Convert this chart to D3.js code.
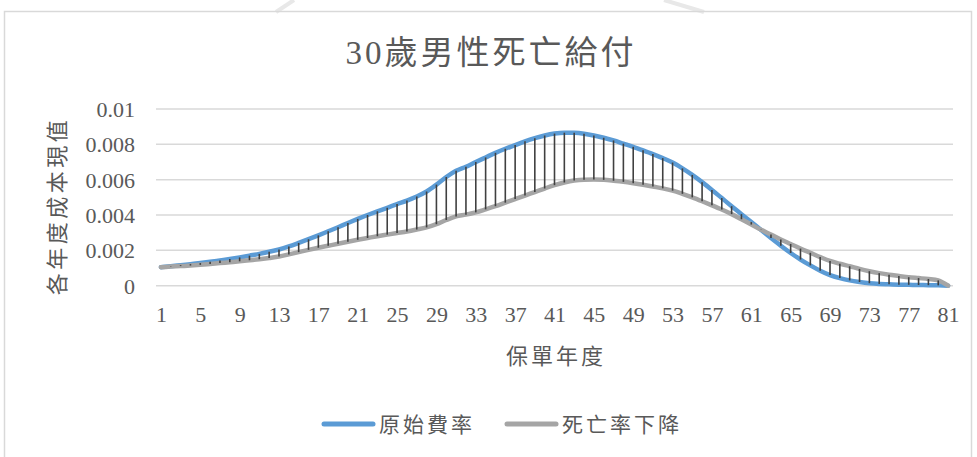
<!DOCTYPE html>
<html>
<head>
<meta charset="utf-8">
<script src="https://cdn.jsdelivr.net/npm/d3@7"></script>
<style>
  html, body { margin: 0; padding: 0; background: #ffffff; }
  svg { display: block; }
</style>
</head>
<body>
<svg id="chart" width="977" height="457"></svg>
<script>
// Policy years 1..81
const categories = d3.range(1, 82);

// 原始費率: present value of yearly cost under the original mortality table
const originalRate = [
  0.00105, 0.00110, 0.00116, 0.00122, 0.00128, 0.00135, 0.00143, 0.00151, 0.00160, 0.00170,
  0.00180, 0.00192, 0.00205, 0.00222, 0.00242, 0.00263, 0.00285, 0.00308, 0.00331, 0.00355,
  0.00378, 0.00400, 0.00421, 0.00441, 0.00462, 0.00482, 0.00505, 0.00533, 0.00572, 0.00615,
  0.00650, 0.00673, 0.00700, 0.00726, 0.00752, 0.00775, 0.00796, 0.00817, 0.00835, 0.00850,
  0.00861, 0.00866, 0.00865, 0.00860, 0.00850, 0.00837, 0.00822, 0.00804, 0.00786, 0.00766,
  0.00745, 0.00722, 0.00697, 0.00664, 0.00627, 0.00586, 0.00542, 0.00496, 0.00450, 0.00405,
  0.00360, 0.00315, 0.00270, 0.00226, 0.00185, 0.00148, 0.00115, 0.00085, 0.00060, 0.00043,
  0.00030, 0.00021, 0.00014, 0.00010, 0.00008, 0.00006, 0.00005, 0.00004, 0.00003, 0.00002,
  0.00000
];

// 死亡率下降: present value of yearly cost with improving mortality
const improvedRate = [
  0.00105, 0.00108, 0.00111, 0.00114, 0.00118, 0.00123, 0.00128, 0.00133, 0.00138, 0.00144,
  0.00150, 0.00157, 0.00165, 0.00177, 0.00190, 0.00203, 0.00215, 0.00226, 0.00237, 0.00249,
  0.00260, 0.00270, 0.00280, 0.00289, 0.00298, 0.00307, 0.00318, 0.00330, 0.00348, 0.00372,
  0.00392, 0.00402, 0.00415, 0.00432, 0.00450, 0.00470, 0.00490, 0.00510, 0.00530, 0.00550,
  0.00569, 0.00584, 0.00595, 0.00600, 0.00601, 0.00599, 0.00594, 0.00588, 0.00580, 0.00571,
  0.00561, 0.00551, 0.00538, 0.00520, 0.00500, 0.00478, 0.00455, 0.00431, 0.00405, 0.00376,
  0.00346, 0.00316, 0.00290, 0.00262, 0.00236, 0.00210, 0.00186, 0.00162, 0.00140, 0.00124,
  0.00110, 0.00095, 0.00082, 0.00071, 0.00062, 0.00055, 0.00048, 0.00043, 0.00038, 0.00030,
  0.00000
];

const seriesNames = ["原始費率", "死亡率下降"];
const xTickLabels = [1, 5, 9, 13, 17, 21, 25, 29, 33, 37, 41, 45, 49, 53, 57, 61, 65, 69, 73, 77, 81];
const yTickValues = [0, 0.002, 0.004, 0.006, 0.008, 0.01];
const yTickLabels = ["0", "0.002", "0.004", "0.006", "0.008", "0.01"];

const titleText = "30歲男性死亡給付";
const xTitle = "保單年度";
const yTitle = "各年度成本現值";

const colors = { original: "#5B9BD5", improved: "#A5A5A5", hilo: "#404040", grid: "#D9D9D9", text: "#595959" };
const serifFont = "'Liberation Serif', 'Times New Roman', 'DejaVu Serif', 'Noto Sans CJK TC', serif";

const svg = d3.select("#chart");
const plot = { left: 156, right: 953, top: 109, bottom: 285.7 };

// Chart frame and faint background strokes
svg.append("line").attr("x1", 294).attr("y1", 0).attr("x2", 276).attr("y2", 12)
  .attr("stroke", "#E8E8E8").attr("stroke-width", 4);
svg.append("line").attr("x1", 664).attr("y1", 0).attr("x2", 704).attr("y2", 12)
  .attr("stroke", "#E8E8E8").attr("stroke-width", 4);
svg.append("rect").attr("x", 4.5).attr("y", 11.5).attr("width", 967).attr("height", 470)
  .attr("fill", "none").attr("stroke", "#D9D9D9").attr("stroke-width", 1.5);

const x = d3.scalePoint().domain(categories).range([plot.left, plot.right]).padding(0.5);
const y = d3.scaleLinear().domain([0, 0.01]).range([plot.bottom, plot.top]);

// Horizontal gridlines
svg.append("g").selectAll("line").data(yTickValues).join("line")
  .attr("x1", plot.left).attr("x2", plot.right)
  .attr("y1", d => y(d)).attr("y2", d => y(d))
  .attr("stroke", colors.grid).attr("stroke-width", 1.5);

// Title
svg.append("text").attr("font-family", serifFont)
  .attr("x", 491).attr("y", 64).attr("text-anchor", "middle")
  .attr("font-size", 33).attr("letter-spacing", 3).attr("fill", colors.text)
  .text(titleText);

// Y axis labels
const yAxis = d3.axisLeft(y).tickValues(yTickValues).tickSize(0)
  .tickFormat((d, i) => yTickLabels[i]);
const gy = svg.append("g").attr("transform", `translate(${plot.left - 21},0)`).call(yAxis);
gy.select(".domain").remove();
gy.attr("font-family", serifFont).attr("font-size", 22);
gy.selectAll("text").attr("fill", colors.text).attr("dy", "0.34em").attr("x", 0);

// X axis labels
const xAxis = d3.axisBottom(x).tickValues(xTickLabels).tickSize(0);
const gx = svg.append("g").attr("transform", `translate(0,${plot.bottom})`).call(xAxis);
gx.select(".domain").remove();
gx.attr("font-family", serifFont).attr("font-size", 22);
gx.selectAll("text").attr("fill", colors.text).attr("dy", 0).attr("y", 36);

// Axis titles
svg.append("text").attr("font-family", serifFont)
  .attr("x", 556).attr("y", 364).attr("text-anchor", "middle")
  .attr("font-size", 22).attr("letter-spacing", 3).attr("fill", colors.text)
  .text(xTitle);
svg.append("text").attr("font-family", serifFont)
  .attr("transform", "translate(65,206) rotate(-90)").attr("text-anchor", "middle")
  .attr("font-size", 22).attr("letter-spacing", 3.5).attr("fill", colors.text)
  .text(yTitle);

// Series lines
const line = (values) => d3.line()
  .x((d, i) => x(categories[i]))
  .y(d => y(d))
  .curve(d3.curveMonotoneX)(values);

svg.append("path").attr("d", line(originalRate))
  .attr("fill", "none").attr("stroke", colors.original).attr("stroke-width", 4.5)
  .attr("stroke-linecap", "round").attr("stroke-linejoin", "round");
svg.append("path").attr("d", line(improvedRate))
  .attr("fill", "none").attr("stroke", colors.improved).attr("stroke-width", 4.5)
  .attr("stroke-linecap", "round").attr("stroke-linejoin", "round");

// High-low lines between the two series at each policy year
svg.append("g").selectAll("line").data(categories).join("line")
  .attr("x1", d => x(d)).attr("x2", d => x(d))
  .attr("y1", (d, i) => y(originalRate[i]))
  .attr("y2", (d, i) => y(improvedRate[i]))
  .attr("stroke", colors.hilo).attr("stroke-width", 1.6);

// Legend
const legendItems = [
  { name: seriesNames[0], color: colors.original, x0: 322 },
  { name: seriesNames[1], color: colors.improved, x0: 505 }
];
const lg = svg.append("g").selectAll("g").data(legendItems).join("g")
  .attr("transform", d => `translate(${d.x0},424)`);
lg.append("line").attr("x1", 2).attr("x2", 51).attr("y1", 0).attr("y2", 0)
  .attr("stroke", d => d.color).attr("stroke-width", 5).attr("stroke-linecap", "round");
lg.append("text").attr("font-family", serifFont).attr("x", 57).attr("y", 0).attr("dy", "0.36em")
  .attr("font-size", 21).attr("letter-spacing", 3).attr("fill", colors.text)
  .text(d => d.name);
</script>
</body>
</html>
